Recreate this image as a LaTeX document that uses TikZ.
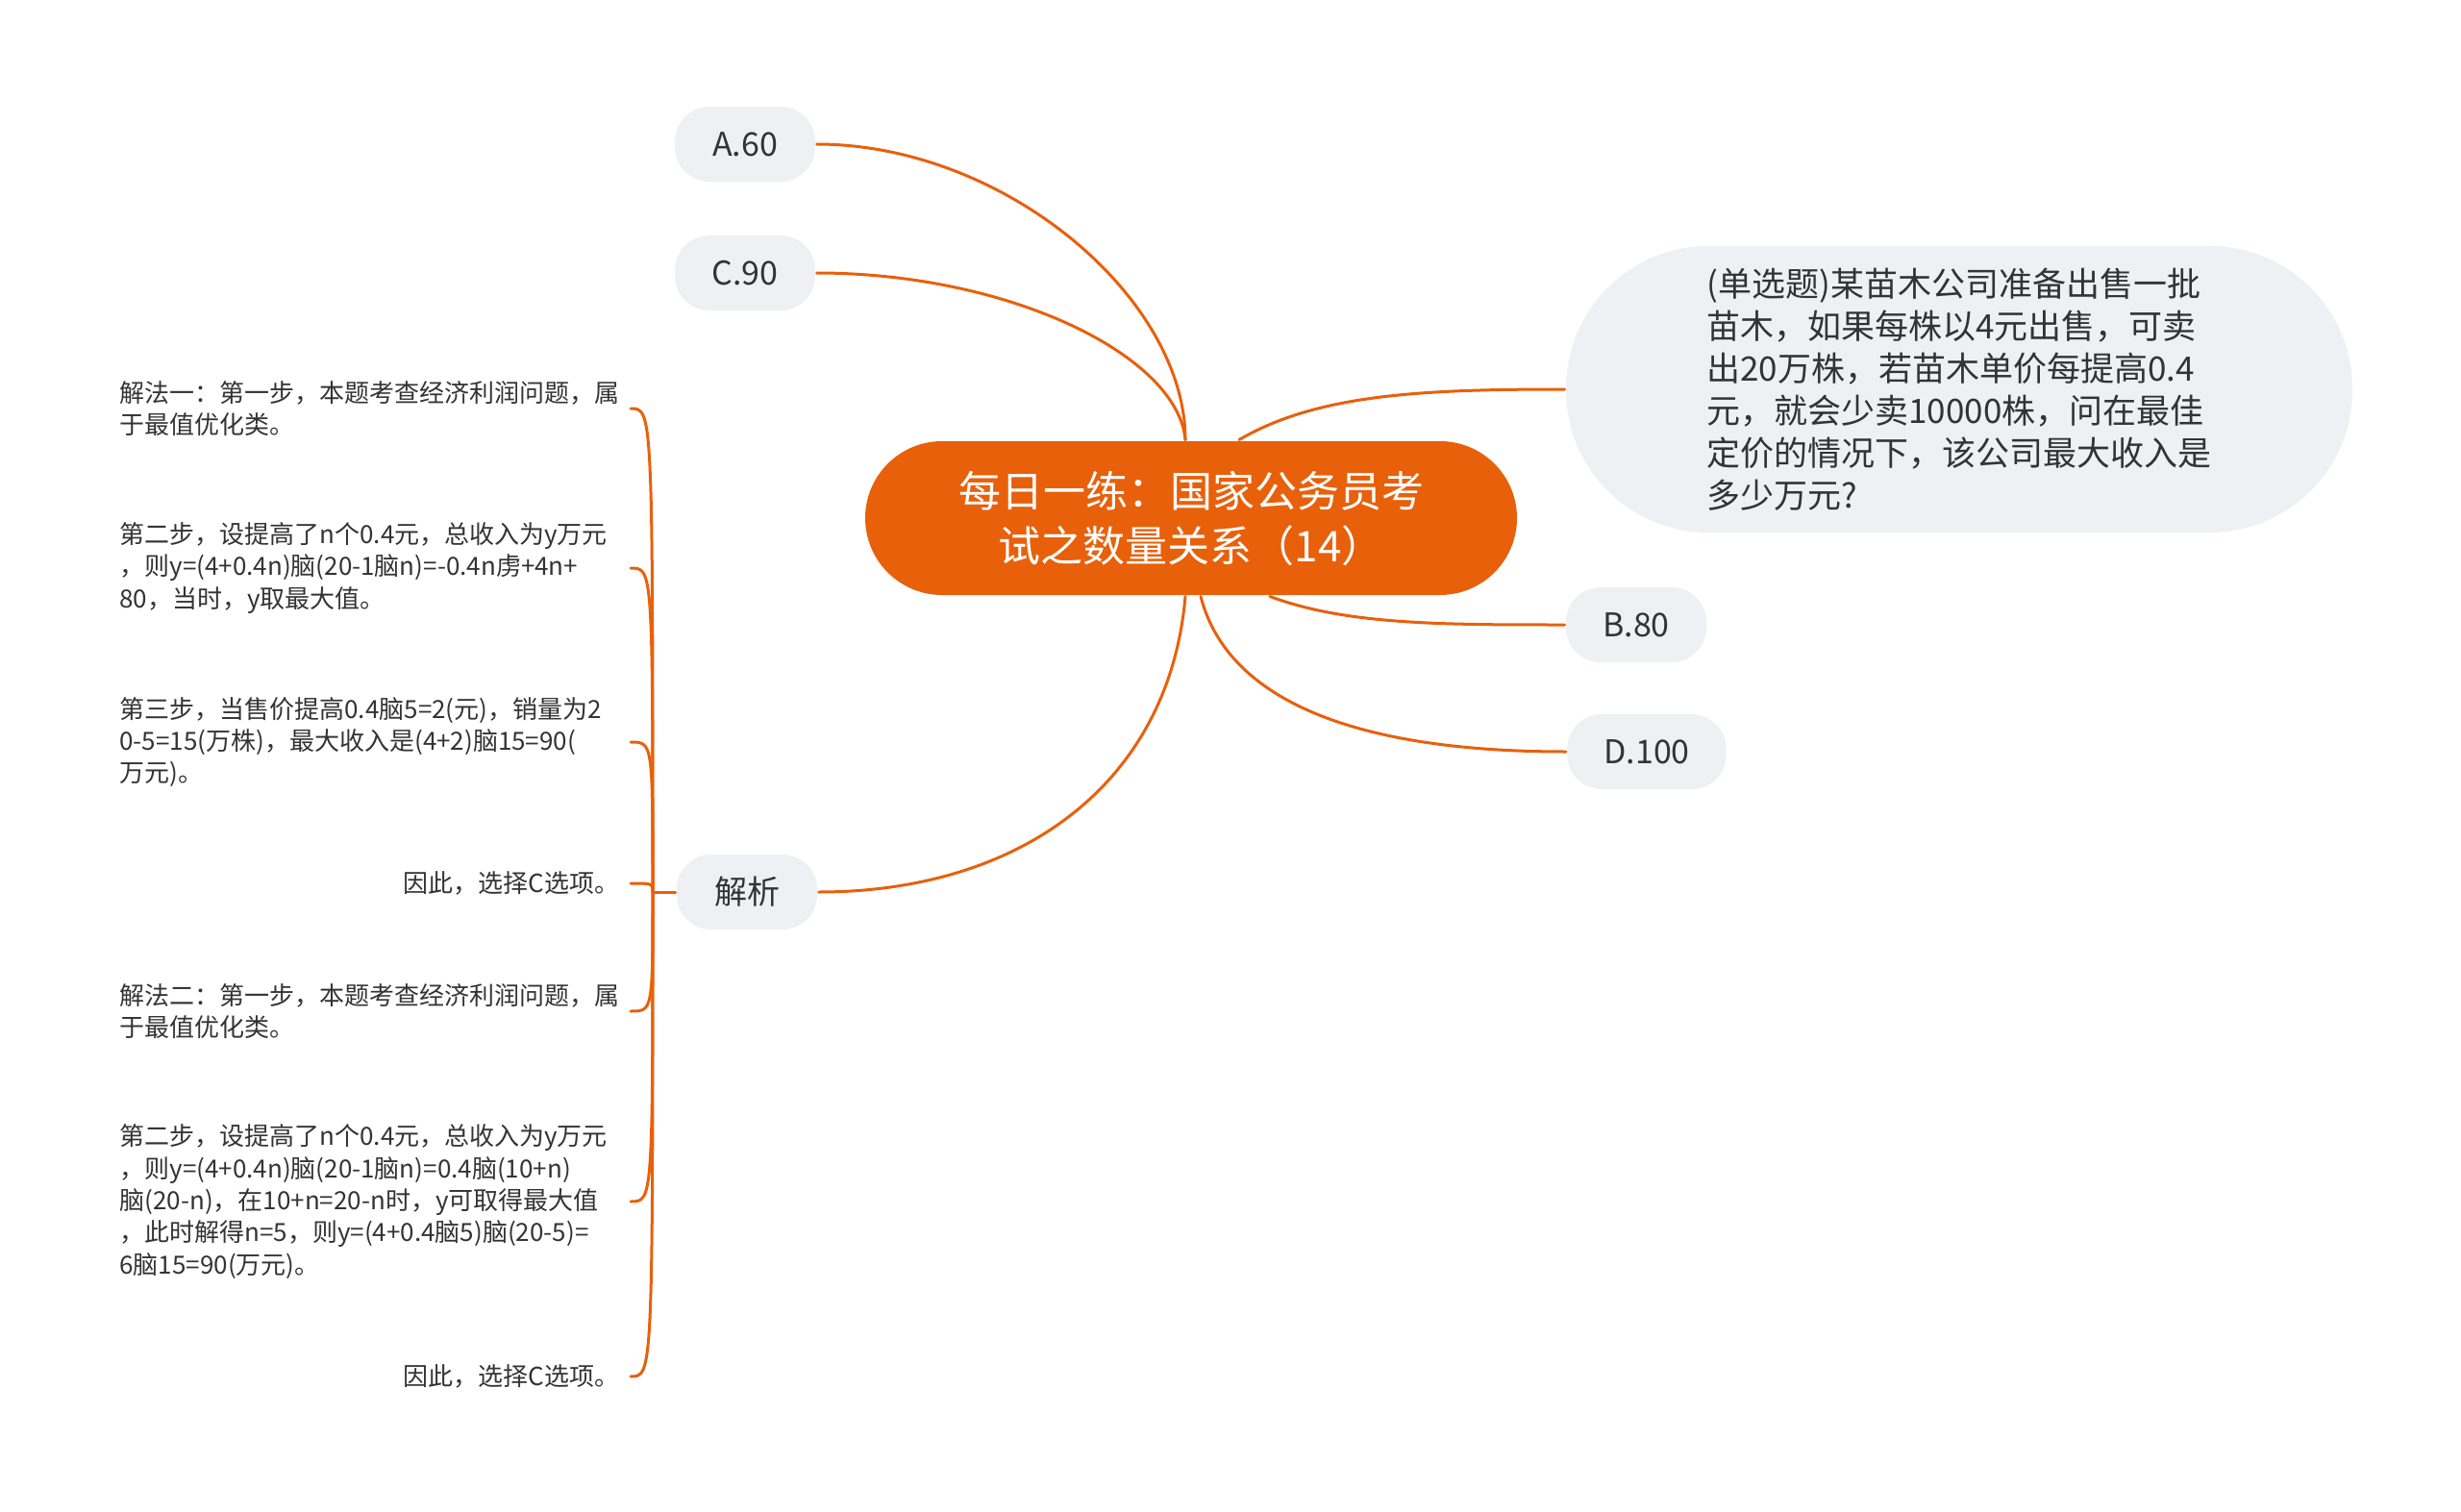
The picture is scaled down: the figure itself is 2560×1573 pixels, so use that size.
\documentclass[tikz,border=0pt]{standalone}
\usepackage{fontspec}
\setmainfont{Noto Sans CJK SC}
\definecolor{mainorange}{HTML}{E8600A}
\definecolor{optgray}{HTML}{EEF0F3}
\definecolor{textgray}{HTML}{333333}
\begin{document}
\begin{tikzpicture}[x=0.5pt, y=-0.5pt, line width=1.5pt,
  conn/.style={draw=mainorange, line cap=round},
  title node/.style={rounded corners=40pt, fill=mainorange, text=white, minimum width=339pt, minimum height=80pt, align=center, font=\fontsize{22}{28.5}\selectfont},
  main node/.style={rounded corners=18pt, fill=optgray, text=textgray, minimum height=39pt, minimum width=73pt, inner xsep=19pt, font=\fontsize{17}{20}\selectfont},
  question node/.style={rounded corners=74pt, fill=optgray, text=textgray, minimum width=409pt, minimum height=149pt, align=left, font=\fontsize{17.5}{22}\selectfont},
  leaf node/.style={anchor=east, align=left, inner xsep=5pt, inner ysep=0pt, text=textgray, font=\fontsize{13}{16.7}\selectfont},
  wide leaf/.style={leaf node, text width=260pt}]
\useasboundingbox (0,0) rectangle (2560,1573);

\node [title node](t) at (1239,539) {每日一练：国家公务员考\\试之数量关系（14）};
\node [main node](a) at (775,150) {A.60};
\node [main node](c) at (775,284) {C.90};
\node [main node](jx) at (777,928) {解析};
\node [main node](b) at (1702,650) {B.80};
\node [main node](d) at (1713,782) {D.100};
\node [question node](q) at (2038,405) {(单选题)某苗木公司准备出售一批\\苗木，如果每株以4元出售，可卖\\出20万株，若苗木单价每提高0.4\\元，就会少卖10000株，问在最佳\\定价的情况下，该公司最大收入是\\多少万元?};

% leaves of 解析
\node [wide leaf](l1) at (656,425) {解法一：第一步，本题考查经济利润问题，属\\于最值优化类。};
\node [wide leaf](l2) at (656,591) {第二步，设提高了n个0.4元，总收入为y万元\\，则y=(4+0.4n)脑(20-1脑n)=-0.4n虏+4n+\\80，当时，y取最大值。};
\node [wide leaf](l3) at (656,772) {第三步，当售价提高0.4脑5=2(元)，销量为2\\0-5=15(万株)，最大收入是(4+2)脑15=90(\\万元)。};
\node [leaf node](l4) at (656,919) {因此，选择C选项。};
\node [wide leaf](l5) at (656,1052) {解法二：第一步，本题考查经济利润问题，属\\于最值优化类。};
\node [wide leaf](l6) at (656,1250) {第二步，设提高了n个0.4元，总收入为y万元\\，则y=(4+0.4n)脑(20-1脑n)=0.4脑(10+n)\\脑(20-n)，在10+n=20-n时，y可取得最大值\\，此时解得n=5，则y=(4+0.4脑5)脑(20-5)=\\6脑15=90(万元)。};
\node [leaf node](l7) at (656,1432) {因此，选择C选项。};
\coordinate (trunk) at (679,928);

\draw [conn] (a.east) .. controls (1045,150) and (1233,310) .. ([xshift=-3pt]t.north);
\draw [conn] (c.east) .. controls (1050,284) and (1225,370) .. ([xshift=-3pt]t.north);
\draw [conn] ([xshift=25pt]t.north) .. controls (1370,410) and (1480,405) .. (q.west);
\draw [conn] ([xshift=41pt]t.south) .. controls (1400,650) and (1500,650) .. (b.west);
\draw [conn] ([xshift=5pt]t.south) .. controls (1274,718) and (1388,782) .. (d.west);
\draw [conn] ([xshift=-3pt]t.south) .. controls (1216,816) and (1061,928) .. (jx.east);
\draw [conn] (jx.west) -- (trunk);
\foreach \l in {l1,l2,l3,l4,l5,l6,l7}
  \draw [conn] (trunk) .. controls (trunk |- \l.east) and (trunk |- \l.east) .. (\l.east);
\end{tikzpicture}
\end{document}
